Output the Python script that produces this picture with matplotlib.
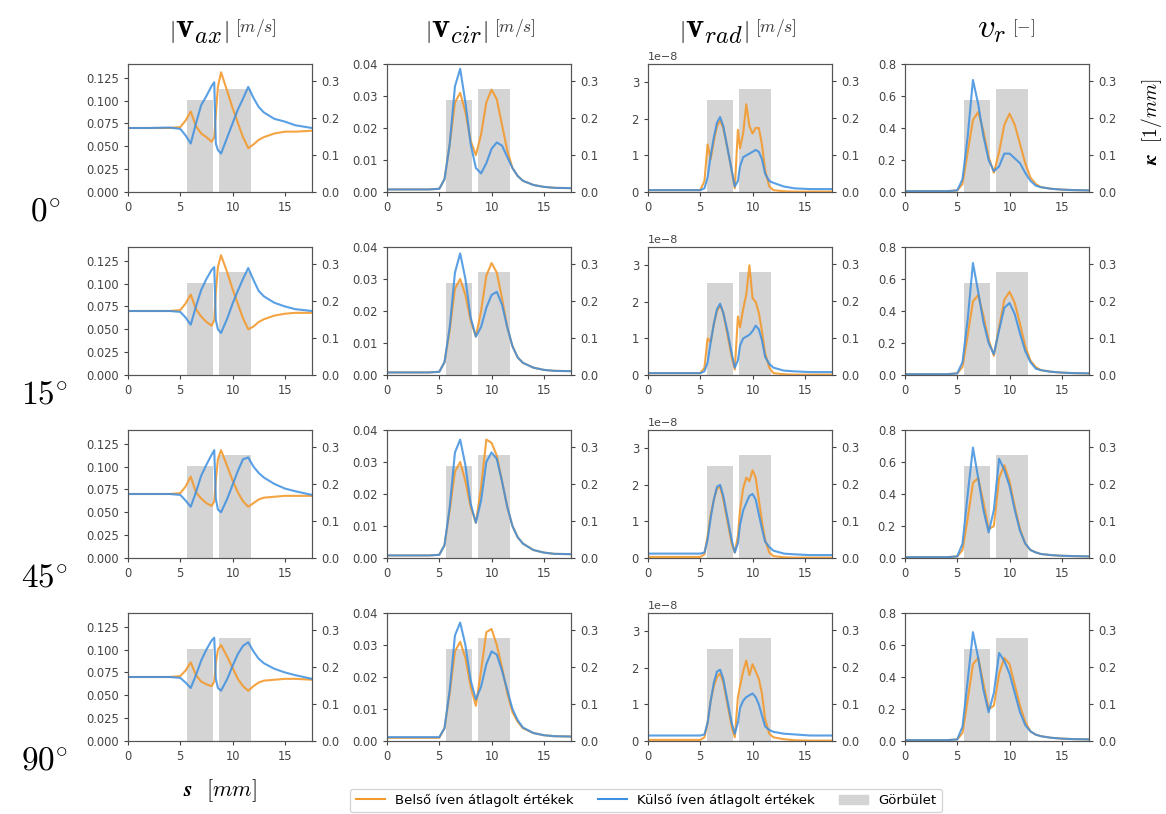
import matplotlib
matplotlib.use("Agg")
import matplotlib.pyplot as plt
from matplotlib.patches import Patch
import numpy as np

plt.rcParams['mathtext.fontset'] = 'cm'

# curvature bars (same for every row), right axis [1/mm]
bar_left = [5.6, 8.7]
bar_width = [2.5, 3.1]
bar_height = [0.247, 0.277]

# column 1: |v_ax| [m/s]
s_ax = [0, 2, 4, 5.0, 5.5, 6.0, 6.5, 7.0, 7.5, 8.0, 8.25, 8.4, 8.6, 8.9, 9.5, 10.0,
        10.5, 11.0, 11.5, 12.0, 12.5, 13.0, 14.0, 15.0, 16.0, 17.6]
vax_out = [
    [0.070, 0.070, 0.0705, 0.069, 0.062, 0.053, 0.075, 0.095, 0.105, 0.116, 0.120, 0.053, 0.046,
     0.042, 0.060, 0.075, 0.090, 0.102, 0.115, 0.103, 0.093, 0.087, 0.080, 0.077, 0.073, 0.070],
    [0.070, 0.070, 0.070, 0.069, 0.063, 0.055, 0.075, 0.093, 0.105, 0.115, 0.118, 0.060, 0.050,
     0.046, 0.062, 0.078, 0.092, 0.105, 0.117, 0.104, 0.092, 0.086, 0.079, 0.075, 0.072, 0.070],
    [0.070, 0.070, 0.070, 0.069, 0.063, 0.056, 0.072, 0.090, 0.102, 0.113, 0.118, 0.065, 0.053,
     0.050, 0.065, 0.080, 0.095, 0.108, 0.110, 0.100, 0.093, 0.088, 0.081, 0.076, 0.073, 0.069],
    [0.070, 0.070, 0.070, 0.069, 0.064, 0.058, 0.072, 0.088, 0.100, 0.110, 0.113, 0.068, 0.058,
     0.055, 0.068, 0.082, 0.095, 0.104, 0.108, 0.098, 0.090, 0.085, 0.079, 0.075, 0.072, 0.068],
]
vax_in = [
    [0.070, 0.070, 0.070, 0.071, 0.078, 0.088, 0.072, 0.064, 0.060, 0.055, 0.060, 0.085, 0.115,
     0.131, 0.110, 0.092, 0.076, 0.060, 0.048, 0.052, 0.057, 0.060, 0.064, 0.066, 0.066, 0.067],
    [0.070, 0.070, 0.070, 0.071, 0.078, 0.088, 0.072, 0.064, 0.058, 0.054, 0.060, 0.090, 0.118,
     0.131, 0.112, 0.094, 0.078, 0.062, 0.050, 0.053, 0.058, 0.061, 0.065, 0.067, 0.068, 0.068],
    [0.070, 0.070, 0.070, 0.071, 0.078, 0.089, 0.072, 0.065, 0.060, 0.057, 0.062, 0.085, 0.108,
     0.118, 0.100, 0.085, 0.072, 0.062, 0.056, 0.060, 0.064, 0.066, 0.067, 0.068, 0.068, 0.068],
    [0.070, 0.070, 0.070, 0.071, 0.077, 0.086, 0.072, 0.065, 0.062, 0.060, 0.065, 0.085, 0.100,
     0.105, 0.092, 0.080, 0.068, 0.060, 0.055, 0.060, 0.064, 0.066, 0.067, 0.068, 0.068, 0.067],
]

# column 2: |v_cir| [m/s]
s_cir = [0, 2, 4, 5.0, 5.5, 6.0, 6.5, 7.0, 7.5, 8.0, 8.5, 9.0, 9.5, 10.0, 10.5, 11.0,
         11.5, 12.0, 12.5, 13.0, 14.0, 15.0, 16.0, 17.6]
vcir_out = [
    [0.0008, 0.0008, 0.0008, 0.001, 0.004, 0.015, 0.033, 0.0385, 0.028, 0.015, 0.0075, 0.0058,
     0.009, 0.0135, 0.0155, 0.0145, 0.011, 0.0075, 0.005, 0.0035, 0.0022, 0.0016, 0.0013, 0.0012],
    [0.0008, 0.0008, 0.0008, 0.001, 0.004, 0.015, 0.032, 0.038, 0.030, 0.018, 0.012, 0.015,
     0.021, 0.025, 0.026, 0.022, 0.015, 0.009, 0.0055, 0.0038, 0.0023, 0.0016, 0.0013, 0.0012],
    [0.0008, 0.0008, 0.0008, 0.001, 0.004, 0.016, 0.033, 0.037, 0.029, 0.017, 0.011, 0.018,
     0.030, 0.033, 0.031, 0.024, 0.016, 0.010, 0.0065, 0.0045, 0.0025, 0.0017, 0.0013, 0.0012],
    [0.0012, 0.0012, 0.0012, 0.0012, 0.004, 0.016, 0.033, 0.037, 0.030, 0.019, 0.013, 0.017,
     0.024, 0.028, 0.027, 0.022, 0.016, 0.010, 0.0065, 0.0042, 0.0025, 0.0018, 0.0015, 0.0014],
]
vcir_in = [
    [0.0008, 0.0008, 0.0008, 0.001, 0.004, 0.015, 0.028, 0.031, 0.025, 0.016, 0.0115, 0.018,
     0.028, 0.032, 0.029, 0.021, 0.013, 0.0075, 0.005, 0.0035, 0.0022, 0.0016, 0.0013, 0.0012],
    [0.0008, 0.0008, 0.0008, 0.001, 0.004, 0.014, 0.027, 0.030, 0.025, 0.017, 0.012, 0.020,
     0.031, 0.035, 0.032, 0.024, 0.015, 0.009, 0.0055, 0.0038, 0.0023, 0.0016, 0.0013, 0.0012],
    [0.0008, 0.0008, 0.0008, 0.001, 0.004, 0.015, 0.027, 0.030, 0.024, 0.016, 0.011, 0.022,
     0.037, 0.036, 0.032, 0.024, 0.016, 0.010, 0.0065, 0.0045, 0.0025, 0.0017, 0.0013, 0.0012],
    [0.001, 0.001, 0.001, 0.001, 0.004, 0.015, 0.028, 0.031, 0.026, 0.017, 0.011, 0.022,
     0.034, 0.035, 0.030, 0.023, 0.015, 0.009, 0.006, 0.004, 0.0025, 0.0018, 0.0015, 0.0014],
]

# column 3: |v_rad| [m/s], values in 1e-8
s_rad = [0, 2, 4, 5.0, 5.4, 5.7, 6.0, 6.3, 6.6, 6.9, 7.2, 7.6, 8.0, 8.3, 8.6, 8.8, 9.1, 9.4,
         9.7, 10.0, 10.3, 10.6, 10.9, 11.2, 11.6, 12.0, 13.0, 14.0, 15.5, 17.6]
vrad_out = [
    [0.05, 0.05, 0.05, 0.05, 0.1, 0.4, 1.0, 1.5, 1.9, 2.05, 1.8, 1.2, 0.6, 0.15, 0.3, 0.7, 0.95,
     1.0, 1.05, 1.1, 1.15, 1.1, 0.9, 0.5, 0.3, 0.25, 0.15, 0.1, 0.08, 0.08],
    [0.05, 0.05, 0.05, 0.05, 0.1, 0.35, 0.9, 1.4, 1.8, 1.95, 1.7, 1.2, 0.6, 0.2, 0.4, 0.8, 1.0,
     1.05, 1.1, 1.2, 1.35, 1.25, 0.95, 0.5, 0.3, 0.2, 0.12, 0.1, 0.08, 0.08],
    [0.12, 0.12, 0.12, 0.12, 0.15, 0.5, 1.1, 1.6, 1.95, 2.0, 1.7, 1.1, 0.5, 0.15, 0.4, 0.9, 1.3,
     1.5, 1.7, 1.75, 1.6, 1.2, 0.8, 0.45, 0.3, 0.2, 0.12, 0.1, 0.08, 0.08],
    [0.15, 0.15, 0.15, 0.15, 0.18, 0.5, 1.1, 1.6, 1.9, 1.95, 1.7, 1.1, 0.5, 0.2, 0.5, 0.9, 1.1,
     1.2, 1.25, 1.3, 1.2, 1.0, 0.7, 0.4, 0.3, 0.25, 0.2, 0.18, 0.15, 0.15],
]
vrad_in = [
    [0.05, 0.05, 0.05, 0.05, 0.3, 1.3, 0.9, 1.4, 1.8, 1.95, 1.75, 1.2, 0.6, 0.1, 1.7, 1.2, 1.6,
     2.4, 1.8, 1.6, 1.75, 1.75, 1.3, 0.6, 0.15, 0.05, 0.02, 0.01, 0.01, 0.01],
    [0.05, 0.05, 0.05, 0.05, 0.2, 1.0, 0.9, 1.4, 1.75, 1.9, 1.7, 1.1, 0.5, 0.15, 1.6, 1.3, 1.8,
     2.2, 3.0, 2.1, 2.0, 1.7, 1.2, 0.6, 0.2, 0.05, 0.02, 0.01, 0.01, 0.01],
    [0.03, 0.03, 0.03, 0.03, 0.1, 0.6, 1.2, 1.6, 1.9, 1.95, 1.6, 1.0, 0.4, 0.15, 0.6, 1.3, 1.9,
     2.2, 2.1, 2.4, 2.2, 1.6, 1.0, 0.5, 0.15, 0.05, 0.02, 0.01, 0.01, 0.01],
    [0.03, 0.03, 0.03, 0.03, 0.1, 0.5, 1.1, 1.5, 1.75, 1.85, 1.6, 1.0, 0.4, 0.1, 1.2, 1.5, 1.9,
     2.2, 1.8, 2.1, 1.9, 1.7, 1.3, 0.6, 0.2, 0.1, 0.05, 0.02, 0.01, 0.01],
]

# column 4: v_r [-]
s_r = [0, 2, 4, 5.0, 5.5, 6.0, 6.5, 7.0, 7.5, 8.0, 8.5, 9.0, 9.5, 10.0, 10.5, 11.0,
       11.5, 12.0, 12.5, 13.0, 14.0, 15.0, 16.0, 17.6]
vr_out = [
    [0.005, 0.005, 0.005, 0.01, 0.08, 0.35, 0.70, 0.55, 0.35, 0.20, 0.13, 0.16, 0.24, 0.24,
     0.21, 0.18, 0.12, 0.07, 0.04, 0.03, 0.02, 0.015, 0.012, 0.01],
    [0.005, 0.005, 0.005, 0.01, 0.08, 0.35, 0.70, 0.52, 0.33, 0.20, 0.13, 0.28, 0.42, 0.45,
     0.38, 0.26, 0.15, 0.08, 0.04, 0.03, 0.02, 0.015, 0.012, 0.01],
    [0.005, 0.005, 0.005, 0.01, 0.09, 0.40, 0.69, 0.50, 0.30, 0.16, 0.30, 0.62, 0.55, 0.45,
     0.30, 0.17, 0.09, 0.05, 0.035, 0.025, 0.018, 0.014, 0.012, 0.01],
    [0.005, 0.005, 0.005, 0.01, 0.09, 0.38, 0.68, 0.52, 0.32, 0.18, 0.30, 0.55, 0.50, 0.42,
     0.30, 0.18, 0.10, 0.06, 0.04, 0.03, 0.02, 0.015, 0.012, 0.01],
]
vr_in = [
    [0.005, 0.005, 0.005, 0.01, 0.05, 0.25, 0.45, 0.50, 0.38, 0.22, 0.12, 0.25, 0.42, 0.49,
     0.42, 0.30, 0.18, 0.09, 0.05, 0.03, 0.02, 0.015, 0.012, 0.01],
    [0.005, 0.005, 0.005, 0.01, 0.05, 0.25, 0.46, 0.50, 0.37, 0.22, 0.12, 0.30, 0.47, 0.52,
     0.45, 0.32, 0.18, 0.09, 0.05, 0.03, 0.02, 0.015, 0.012, 0.01],
    [0.005, 0.005, 0.005, 0.01, 0.05, 0.25, 0.47, 0.50, 0.35, 0.18, 0.20, 0.50, 0.58, 0.48,
     0.32, 0.18, 0.09, 0.05, 0.035, 0.025, 0.018, 0.014, 0.012, 0.01],
    [0.005, 0.005, 0.005, 0.01, 0.05, 0.26, 0.48, 0.52, 0.36, 0.20, 0.22, 0.42, 0.52, 0.48,
     0.35, 0.22, 0.12, 0.06, 0.04, 0.03, 0.02, 0.015, 0.012, 0.01],
]

row_labels = ['$0^{\\circ}$', '$15^{\\circ}$', '$45^{\\circ}$', '$90^{\\circ}$']
col_titles = [r'$\left|\mathbf{v}_{ax}\right|$', r'$\left|\mathbf{v}_{cir}\right|$',
              r'$\left|\mathbf{v}_{rad}\right|$', r'$v_r$']
col_units = [r'$[m/s]$', r'$[m/s]$', r'$[m/s]$', r'$[-]$']

cols = [
    (s_ax, vax_in, vax_out, 1.0, (0, 0.14), [0, 0.025, 0.05, 0.075, 0.1, 0.125]),
    (s_cir, vcir_in, vcir_out, 1.0, (0, 0.04), [0, 0.01, 0.02, 0.03, 0.04]),
    (s_rad, vrad_in, vrad_out, 1e-8, (0, 3.5e-8), [0, 1e-8, 2e-8, 3e-8]),
    (s_r, vr_in, vr_out, 1.0, (0, 0.8), [0, 0.2, 0.4, 0.6, 0.8]),
]

c_in = '#f39a2e'
c_out = '#3d8fe0'
c_bar = '#d4d4d4'

W, H = 1166, 814
fig = plt.figure(figsize=(W / 100, H / 100), dpi=100)

lefts = [128, 387, 648, 905]
ax_w = 184
tops = [64, 247, 430, 613]
ax_h = 128

for r in range(4):
    for c in range(4):
        s, y_in, y_out, scale, ylim, yt = cols[c]
        ax = fig.add_axes([lefts[c] / W, 1 - (tops[r] + ax_h) / H, ax_w / W, ax_h / H])
        ax2 = ax.twinx()
        ax2.bar(bar_left, bar_height, width=bar_width, align='edge', color=c_bar, zorder=1)
        ax2.set_ylim(0, 0.345)
        ax2.set_yticks([0, 0.1, 0.2, 0.3])
        ax.set_zorder(ax2.get_zorder() + 1)
        ax.patch.set_visible(False)
        ax.plot(s, np.array(y_in[r]) * scale, color=c_in, lw=1.5, alpha=0.9)
        ax.plot(s, np.array(y_out[r]) * scale, color=c_out, lw=1.5, alpha=0.85)
        ax.set_xlim(0, 17.6)
        ax.set_ylim(*ylim)
        ax.set_yticks(yt)
        ax.set_xticks([0, 5, 10, 15])
        for a in (ax, ax2):
            a.tick_params(labelsize=8.3, length=3, colors='#444444')
            for sp in a.spines.values():
                sp.set_color('#555555')
        ax.yaxis.get_offset_text().set_fontsize(8)
        if r == 0:
            cx = (lefts[c] + ax_w / 2) / W
            fig.text(cx + 0.008, 1 - 28 / H, col_titles[c], fontsize=25, ha='right', va='center')
            fig.text(cx + 0.013, 1 - 28 / H, col_units[c], fontsize=12.5, ha='left', va='center',
                     color='#333333')
    fig.text(45 / W, 1 - (tops[r] + ax_h + 20) / H, row_labels[r], fontsize=24, ha='center',
             va='center')

fig.text(1152 / W, 1 - 122 / H, r'$\boldsymbol{\kappa}$  $[1/mm]$', fontsize=14, rotation=90,
         ha='center', va='center')
fig.text((lefts[0] + ax_w / 2) / W, 1 - 791 / H, r'$\boldsymbol{s}$  $[mm]$', fontsize=16,
         ha='center', va='center')

handles = [plt.Line2D([], [], color=c_in, lw=1.5), plt.Line2D([], [], color=c_out, lw=1.5),
           Patch(color=c_bar)]
fig.legend(handles, ['Belső íven átlagolt értékek', 'Külső íven átlagolt értékek', 'Görbület'],
           loc='lower center', bbox_to_anchor=(646 / W, -0.006), ncol=3, fontsize=9.5,
           frameon=True, handlelength=2.2, columnspacing=1.8)

fig.savefig('out.png', dpi=100)
